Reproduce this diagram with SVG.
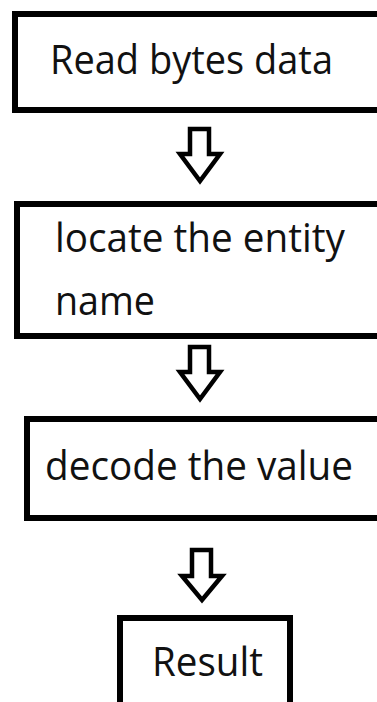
<svg xmlns="http://www.w3.org/2000/svg" width="377" height="702" viewBox="0 0 377 702">
  <style>
    .box { fill: #ffffff; stroke: #000000; stroke-width: 6; }
    .label { font-family: "Open Sans", "Noto Sans", "DejaVu Sans", sans-serif; font-size: 40px; fill: #111111; }
    .flow { fill: #ffffff; stroke: #000000; stroke-width: 4.5; stroke-linejoin: miter; }
  </style>
  <rect width="377" height="702" fill="#ffffff"/>

  <g id="read-bytes">
    <rect class="box" x="15" y="14" width="370" height="96"/>
    <text class="label" x="50" y="74" textLength="283" lengthAdjust="spacingAndGlyphs">Read bytes data</text>
  </g>

  <g id="locate-entity">
    <rect class="box" x="17" y="204" width="370" height="132"/>
    <text class="label" x="55" y="252" textLength="290" lengthAdjust="spacingAndGlyphs">locate the entity</text>
    <text class="label" x="55" y="315" textLength="100" lengthAdjust="spacingAndGlyphs">name</text>
  </g>

  <g id="decode-value">
    <rect class="box" x="27" y="419" width="360" height="99"/>
    <text class="label" x="45" y="480" textLength="308" lengthAdjust="spacingAndGlyphs">decode the value</text>
  </g>

  <g id="result">
    <rect class="box" x="120" y="618" width="170" height="100"/>
    <text class="label" x="152" y="676" textLength="111" lengthAdjust="spacingAndGlyphs">Result</text>
  </g>

  <g id="connectors">
    <polygon class="flow" points="190,129 209,129 209,154 220,154 200,181 180,154 190,154"/>
    <polygon class="flow" points="190,347 209,347 209,372 220,372 200,399 180,372 190,372"/>
    <polygon class="flow" points="192,550 211,550 211,576 222,576 202,600 182,576 192,576"/>
  </g>
</svg>
